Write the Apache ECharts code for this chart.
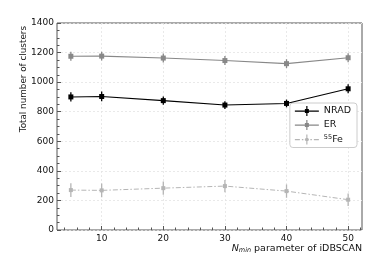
<!DOCTYPE html>
<html><head><meta charset="utf-8">
<script src="https://cdn.jsdelivr.net/npm/echarts@6/dist/echarts.min.js"></script>
<style>html,body{margin:0;padding:0;background:#fff}#c{width:381px;height:274px}</style>
</head><body><div id="c"></div>
<script>
const nmin = [5, 10, 20, 30, 40, 50];
const nradVals = [900, 903, 875, 845, 856, 955];
const nradErr = [31, 33, 28, 26, 26, 30];
const erVals = [1175, 1176, 1163, 1146, 1125, 1165];
const erErr = [30, 30, 30, 30, 30, 30];
const feVals = [270, 268, 283, 297, 263, 205];
const feErr = [47, 47, 45, 42, 45, 42];
const xTickLabels = [10, 20, 30, 40, 50];
const xMinorTicks = [4, 6, 8, 12, 14, 16, 18, 22, 24, 26, 28, 32, 34, 36, 38, 42, 44, 46, 48, 52];

const FONT = 'DejaVu Sans';
const chart = echarts.init(document.getElementById('c'));

function pairs(vals) { return nmin.map((x, i) => [x, vals[i]]); }
function errData(vals, errs) { return nmin.map((x, i) => [x, vals[i] - errs[i], vals[i] + errs[i]]); }
function errSeries(vals, errs, color) {
  return {
    type: 'custom', xAxisIndex: 0, yAxisIndex: 0, silent: true, z: 3,
    data: errData(vals, errs),
    renderItem: function (params, api) {
      const x = api.value(0);
      const p1 = api.coord([x, api.value(1)]);
      const p2 = api.coord([x, api.value(2)]);
      return { type: 'line', shape: { x1: p1[0], y1: p1[1], x2: p2[0], y2: p2[1] },
        style: { stroke: color, lineWidth: 1.3 } };
    }
  };
}
const iconSolid = 'path://M0,4.5h24v1.2h-24z M11.4,0h1.2v10h-1.2z M10,3h4v4h-4z';
const iconDash = 'path://M0,4.5h5v1.2h-5z M7,4.5h1.5v1.2h-1.5z M10,4.5h4v1.2h-4z M15.5,4.5h1.5v1.2h-1.5z M19,4.5h5v1.2h-5z M11.4,0h1.2v10h-1.2z M10.5,3.5h3v3h-3z';

chart.setOption({
  animation: false,
  textStyle: { fontFamily: FONT },
  grid: { left: 57, top: 23, right: 19, bottom: 44, show: true, borderColor: '#555', borderWidth: 1 },
  legend: {
    right: 24, top: 103, orient: 'vertical', itemWidth: 24, itemHeight: 10, itemGap: 4,
    backgroundColor: '#fff', borderColor: '#ccc', borderWidth: 1, borderRadius: 3,
    padding: [3, 6, 3, 5],
    textStyle: { fontFamily: FONT, fontSize: 9.5, color: '#111',
      rich: { sup: { fontSize: 6.5, verticalAlign: 'top', padding: [0, 0, 4, 0], fontFamily: FONT, color: '#111' },
              n: { fontSize: 9.5, fontFamily: FONT, color: '#111' } } },
    data: [
      { name: 'NRAD', icon: iconSolid, itemStyle: { color: '#000' } },
      { name: 'ER', icon: iconSolid, itemStyle: { color: '#888' } },
      { name: 'Fe55', icon: iconDash, itemStyle: { color: '#b5b5b5' } }
    ],
    formatter: function (n) { return n === 'Fe55' ? '{sup|55}{n|Fe}' : n; }
  },
  xAxis: [{
    type: 'value', min: 2.75, max: 52.25,
    axisLine: { show: false },
    axisTick: { show: true, inside: true, length: 4, customValues: xTickLabels, lineStyle: { color: '#555' } },
    axisLabel: { customValues: xTickLabels, fontFamily: FONT, fontSize: 9, color: '#111', margin: 4 },
    splitLine: { show: true, lineStyle: { color: '#e4e4e4', type: [2, 2], width: 0.8 } },
    name: '{it|N}{sub|min}{n| parameter of iDBSCAN}', nameLocation: 'end', nameGap: 0,
    nameTextStyle: { align: 'right', verticalAlign: 'top', padding: [13, 0, 0, 0],
      rich: { it: { fontStyle: 'italic', fontSize: 9.5, fontFamily: FONT, color: '#111' },
              sub: { fontStyle: 'italic', fontSize: 6.5, fontFamily: FONT, verticalAlign: 'bottom', padding: [4, 0, 0, 0], color: '#111' },
              n: { fontSize: 9.5, fontFamily: FONT, color: '#111' } } }
  }, {
    type: 'value', min: 2.75, max: 52.25, position: 'bottom',
    axisLine: { show: false },
    axisTick: { show: true, inside: true, length: 2.5, customValues: xMinorTicks, lineStyle: { color: '#555' } },
    axisLabel: { show: false }, splitLine: { show: false }
  }],
  yAxis: {
    type: 'value', min: 0, max: 1400, interval: 200,
    axisLine: { show: false },
    axisTick: { show: true, inside: true, length: 4, lineStyle: { color: '#555' } },
    minorTick: { show: true, splitNumber: 4, length: 2.5, lineStyle: { color: '#555' } },
    axisLabel: { fontFamily: FONT, fontSize: 9, color: '#111', margin: 3, formatter: function (v) { return String(v); } },
    splitLine: { show: true, lineStyle: { color: '#e4e4e4', type: [2, 2], width: 0.8 } }
  },
  graphic: [{
    type: 'text', left: 19, top: 26, rotation: Math.PI / 2,
    style: { text: 'Total number of clusters', fontFamily: FONT, fontSize: 8.8, fill: '#111' }
  }],
  series: [
    errSeries(nradVals, nradErr, '#000'),
    errSeries(erVals, erErr, '#888'),
    errSeries(feVals, feErr, '#b5b5b5'),
    { name: 'NRAD', type: 'line', data: pairs(nradVals), symbol: 'rect', symbolSize: 5, z: 4,
      lineStyle: { color: '#000', width: 1.1 }, itemStyle: { color: '#000' } },
    { name: 'ER', type: 'line', data: pairs(erVals), symbol: 'rect', symbolSize: 5, z: 4,
      lineStyle: { color: '#888', width: 1.1 }, itemStyle: { color: '#888' } },
    { name: 'Fe55', type: 'line', data: pairs(feVals), symbol: 'rect', symbolSize: 4, z: 4,
      lineStyle: { color: '#b5b5b5', width: 1, type: [5, 2, 1.5, 2] }, itemStyle: { color: '#b5b5b5' } }
  ]
});
</script></body></html>
